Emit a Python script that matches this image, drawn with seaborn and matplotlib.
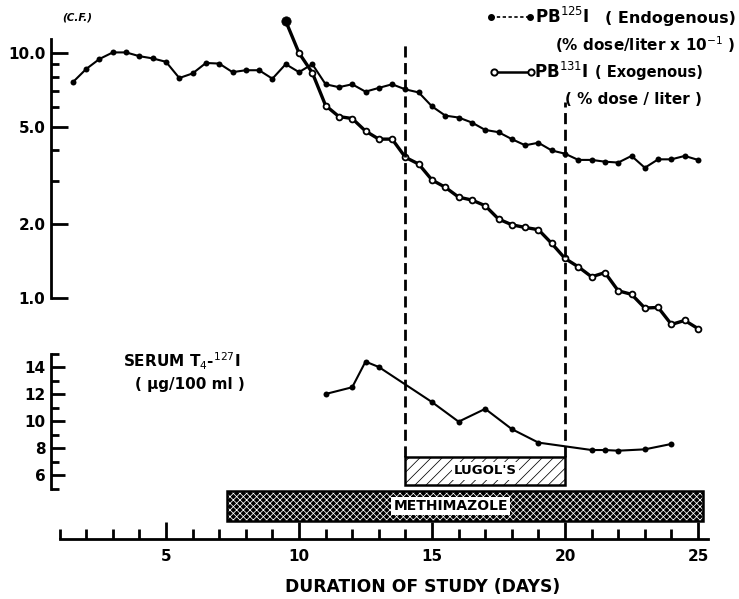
import matplotlib
matplotlib.use("Agg")
import matplotlib.pyplot as plt
import seaborn as sns
from matplotlib.lines import Line2D
from matplotlib.ticker import NullFormatter

# PB125I endogene (% dose/liter x 10^-1)
endo_days = [1.5, 2, 2.5, 3, 3.5, 4, 4.5, 5, 5.5, 6, 6.5, 7, 7.5, 8, 8.5, 9,
             9.5, 10, 10.5, 11, 11.5, 12, 12.5, 13, 13.5, 14, 14.5, 15, 15.5,
             16, 16.5, 17, 17.5, 18, 18.5, 19, 19.5, 20, 20.5, 21, 21.5, 22,
             22.5, 23, 23.5, 24, 24.5, 25]
endo_vals = [7.6, 8.6, 9.45, 10.05, 10.05, 9.7, 9.5, 9.2, 7.9, 8.25, 9.1, 9.05,
             8.35, 8.5, 8.5, 7.85, 9.0, 8.35, 9.0, 7.45, 7.25, 7.45, 6.95, 7.2,
             7.45, 7.1, 6.9, 6.05, 5.55, 5.45, 5.2, 4.85, 4.75, 4.45, 4.2, 4.3,
             4.0, 3.88, 3.66, 3.66, 3.6, 3.57, 3.8, 3.4, 3.68, 3.68, 3.8, 3.66]

# PB131I exogene (% dose/liter)
exo_days = [9.5, 10, 10.5, 11, 11.5, 12, 12.5, 13, 13.5, 14, 14.5, 15, 15.5,
            16, 16.5, 17, 17.5, 18, 18.5, 19, 19.5, 20, 20.5, 21, 21.5, 22,
            22.5, 23, 23.5, 24, 24.5, 25]
exo_vals = [13.5, 10.0, 8.3, 6.1, 5.5, 5.4, 4.8, 4.45, 4.45, 3.75, 3.52, 3.03,
            2.83, 2.58, 2.51, 2.38, 2.10, 1.99, 1.94, 1.90, 1.67, 1.45, 1.34,
            1.22, 1.27, 1.07, 1.035, 0.91, 0.915, 0.78, 0.81, 0.75]

# T4 serique (ug/100 ml)
t4_days = [11, 12, 12.5, 13, 15, 16, 17, 18, 19, 21, 21.5, 22, 23, 24]
t4_vals = [12.0, 12.5, 14.4, 14.0, 11.4, 9.95, 10.9, 9.4, 8.4, 7.85, 7.85, 7.8,
           7.9, 8.3]

# traitements
treatments = ["LUGOL'S", "METHIMAZOLE"]
treat_start = [14, 7.3]
treat_end = [20, 25.2]

top_ticks = [1, 2, 5, 10]
top_labels = ["1.0", "2.0", "5.0", "10.0"]
top_minor = [3, 4, 6, 7, 8, 9]
t4_ticks = [6, 8, 10, 12, 14]
t4_minor = [5, 7, 9, 11, 13, 15]
x_ticks = [5, 10, 15, 20, 25]
x_minor = [d for d in range(1, 26) if d % 5 != 0]

sns.set_theme(style="white")
plt.rcParams['font.family'] = ['DejaVu Sans']
plt.rcParams['text.color'] = 'black'
plt.rcParams['axes.labelcolor'] = 'black'
plt.rcParams['xtick.color'] = 'black'
plt.rcParams['ytick.color'] = 'black'
plt.rcParams['hatch.linewidth'] = 0.55

W, H = 739, 599
fig = plt.figure(figsize=(W / 100, H / 100), dpi=100)


def px_axes(left, top, right, bottom):
    a = fig.add_axes([left / W, 1 - bottom / H, (right - left) / W, (bottom - top) / H])
    a.set_facecolor('none')
    a.set_xlim(0.677, 25.45)
    for s in ['top', 'right', 'bottom', 'left']:
        a.spines[s].set_visible(False)
    return a


ax_top = px_axes(51, 39, 710, 298)
ax_mid = px_axes(51, 353.5, 710, 488.5)
ax_bar = px_axes(51, 452, 710, 539)

# --- panneau du haut (log) ---
sns.lineplot(x=endo_days, y=endo_vals, ax=ax_top, color='black', lw=1.5,
             marker='o', markersize=4.3, markeredgewidth=0, clip_on=False)
sns.lineplot(x=exo_days, y=exo_vals, ax=ax_top, color='black', lw=2.4,
             marker='o', markersize=4.2, markerfacecolor='white',
             markeredgecolor='black', markeredgewidth=1.3, clip_on=False)
sns.scatterplot(x=exo_days[:1], y=exo_vals[:1], ax=ax_top, color='black',
                s=45, edgecolor='black', clip_on=False, zorder=5)
ax_top.set_yscale('log')
ax_top.set_ylim(1.0, 11.4)
ax_top.spines['left'].set_visible(True)
ax_top.spines['left'].set_color('black')
ax_top.spines['left'].set_linewidth(2)
ax_top.set_yticks(top_ticks, labels=top_labels)
ax_top.set_yticks(top_minor, minor=True)
ax_top.yaxis.set_minor_formatter(NullFormatter())
ax_top.set_xticks([])
ax_top.tick_params(axis='y', which='both', direction='in', left=True,
                   width=2, pad=4, labelsize=11)
ax_top.tick_params(axis='y', which='major', length=12)
ax_top.tick_params(axis='y', which='minor', length=6)
for lab in ax_top.get_yticklabels():
    lab.set_fontweight('bold')

# lignes verticales (debut / fin Lugol)
ax_top.axvline(treat_start[0], ymin=-0.614, ymax=0.977, color='black', lw=2,
               ls=(0, (4, 2)), clip_on=False)
ax_top.axvline(treat_end[0], ymin=-0.614, ymax=0.757, color='black', lw=2,
               ls=(0, (4, 2)), clip_on=False)

# --- panneau T4 ---
sns.lineplot(x=t4_days, y=t4_vals, ax=ax_mid, color='black', lw=1.5,
             marker='o', markersize=4.3, markeredgewidth=0, clip_on=False)
ax_mid.set_ylim(5, 15)
ax_mid.spines['left'].set_visible(True)
ax_mid.spines['left'].set_color('black')
ax_mid.spines['left'].set_linewidth(2)
ax_mid.set_yticks(t4_ticks)
ax_mid.set_yticks(t4_minor, minor=True)
ax_mid.set_xticks([])
ax_mid.tick_params(axis='y', which='both', direction='in', left=True,
                   width=2, pad=4, labelsize=11)
ax_mid.tick_params(axis='y', which='major', length=10)
ax_mid.tick_params(axis='y', which='minor', length=6)
for lab in ax_mid.get_yticklabels():
    lab.set_fontweight('bold')

# --- barres de traitement + axe des x ---
ax_bar.set_ylim(-1.1, 1.8)
bar_y = [1.17, 0]
bar_h = [0.93, 1.0]
ax_bar.barh(bar_y[0], treat_end[0] - treat_start[0], left=treat_start[0],
            height=bar_h[0], color='white', edgecolor='black', hatch='///',
            lw=1.8)
ax_bar.barh(bar_y[1], treat_end[1] - treat_start[1], left=treat_start[1],
            height=bar_h[1], color='black', edgecolor='white', hatch='xxxxx',
            lw=0)
ax_bar.barh(bar_y[1], treat_end[1] - treat_start[1], left=treat_start[1],
            height=bar_h[1], color='none', edgecolor='black', lw=1.8)
ax_bar.text((treat_start[0] + treat_end[0]) / 2, bar_y[0], treatments[0],
            ha='center', va='center', fontsize=9.5, fontweight='bold',
            bbox=dict(facecolor='white', edgecolor='none', pad=1.5))
ax_bar.text(15.7, bar_y[1], treatments[1],
            ha='center', va='center', fontsize=10, fontweight='bold',
            bbox=dict(facecolor='white', edgecolor='none', pad=1.5))

ax_bar.spines['bottom'].set_visible(True)
ax_bar.spines['bottom'].set_color('black')
ax_bar.spines['bottom'].set_linewidth(2)
ax_bar.spines['bottom'].set_bounds(1, 25.38)
ax_bar.set_yticks([])
ax_bar.set_xticks(x_ticks)
ax_bar.set_xticks(x_minor, minor=True)
ax_bar.tick_params(axis='x', which='both', direction='in', bottom=True,
                   width=2, pad=7, labelsize=11)
ax_bar.tick_params(axis='x', which='major', length=12)
ax_bar.tick_params(axis='x', which='minor', length=7)
for lab in ax_bar.get_xticklabels():
    lab.set_fontweight('bold')
ax_bar.set_xlabel("DURATION OF STUDY (DAYS)", fontsize=12.3, fontweight='bold')
ax_bar.xaxis.set_label_coords(0.5645, -0.45)

# --- textes et legende ---
def fx(px):
    return px / W


def fy(py):
    return 1 - py / H


fig.text(fx(62), fy(17), "(C.F.)", fontsize=7.5, fontweight='bold',
         fontstyle='italic', va='center')

fig.text(fx(123), fy(361), r"SERUM T$_4$-$^{127}$I", fontsize=11,
         fontweight='bold', va='center')
fig.text(fx(135), fy(384), "( \u00b5g/100 ml )", fontsize=11,
         fontweight='bold', va='center')

fig.add_artist(Line2D([fx(491), fx(530)], [fy(17), fy(17)], color='black',
                      lw=1.2, ls=(0, (2, 1.5)), marker='o', markersize=4,
                      transform=fig.transFigure))
fig.add_artist(Line2D([fx(494), fx(531)], [fy(72), fy(72)], color='black',
                      lw=1.8, marker='o', markersize=4.5, markerfacecolor='white',
                      markeredgewidth=1.4, transform=fig.transFigure))

fig.text(fx(535), fy(17), r"PB$^{125}$I", fontsize=12, fontweight='bold',
         va='center')
fig.text(fx(736), fy(18), "( Endogenous)", fontsize=11.5, fontweight='bold',
         va='center', ha='right')
fig.text(fx(736), fy(45), r"(% dose/liter x 10$^{-1}$ )", fontsize=11,
         fontweight='bold', va='center', ha='right')
fig.text(fx(534), fy(72), r"PB$^{131}$I", fontsize=12, fontweight='bold',
         va='center')
fig.text(fx(595), fy(73), "( Exogenous)", fontsize=10.5, fontweight='bold',
         va='center', ha='left')
fig.text(fx(702), fy(100), "( % dose / liter )", fontsize=11,
         fontweight='bold', va='center', ha='right')

plt.savefig('out.png', dpi=100)
